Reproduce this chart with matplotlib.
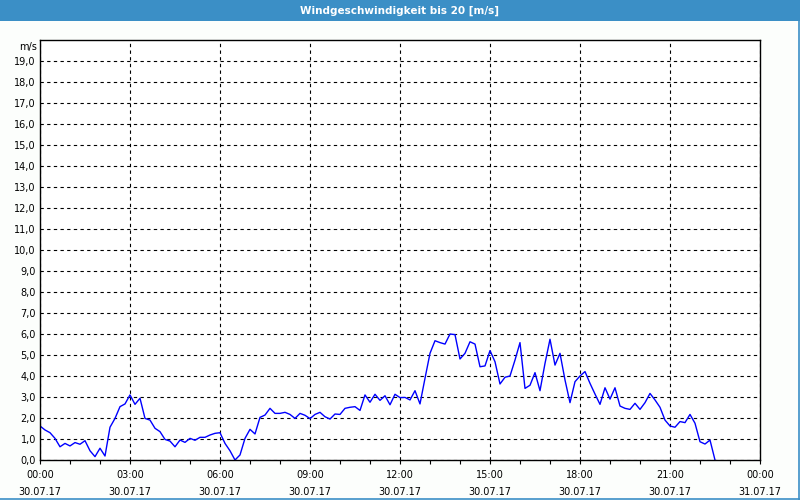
import matplotlib
matplotlib.use("Agg")
import matplotlib.pyplot as plt
import matplotlib.dates as mdates
import matplotlib.transforms as mtransforms
from matplotlib.patches import Rectangle
from matplotlib.lines import Line2D
import numpy as np
import pandas as pd

title = "Windgeschwindigkeit bis 20 [m/s]"
unit_label = "m/s"
start_time = "2017-07-30 00:00"
end_time = "2017-07-31 00:00"
interval = "10min"

wind_speed = [
    1.62, 1.43, 1.30, 1.03, 0.63, 0.79,
    0.67, 0.83, 0.75, 0.92, 0.44, 0.16,
    0.56, 0.19, 1.56, 1.98, 2.54, 2.67,
    3.10, 2.65, 2.94, 1.98, 1.90, 1.51,
    1.35, 0.98, 0.90, 0.63, 0.95, 0.84,
    1.03, 0.94, 1.08, 1.08, 1.19, 1.27,
    1.30, 0.79, 0.44, 0.00, 0.24, 1.03,
    1.46, 1.24, 2.03, 2.14, 2.46, 2.22,
    2.22, 2.27, 2.17, 1.98, 2.22, 2.13,
    1.97, 2.17, 2.27, 2.06, 1.95, 2.19,
    2.17, 2.46, 2.51, 2.54, 2.36, 3.10,
    2.75, 3.13, 2.84, 3.06, 2.63, 3.13,
    2.97, 2.98, 2.86, 3.30, 2.67, 3.89,
    5.08, 5.68, 5.59, 5.52, 6.00, 5.97,
    4.81, 5.08, 5.63, 5.52, 4.44, 4.48,
    5.21, 4.68, 3.62, 3.94, 4.00, 4.76,
    5.59, 3.41, 3.56, 4.16, 3.30, 4.60,
    5.75, 4.52, 5.08, 3.81, 2.73, 3.73,
    4.00, 4.21, 3.65, 3.14, 2.65, 3.44,
    2.90, 3.44, 2.57, 2.46, 2.41, 2.70,
    2.41, 2.73, 3.17, 2.86, 2.51, 1.90,
    1.62, 1.56, 1.83, 1.78, 2.17, 1.75,
    0.87, 0.76, 0.95, 0.00,
]
y_ticks = [float(v) for v in range(0, 20)]
y_tick_labels = [f"{v:.1f}".replace(".", ",") for v in y_ticks]

times = pd.date_range(start_time, periods=len(wind_speed), freq=interval)

bg = "#fcfefc"
bar_blue = "#3b8fc6"

fig = plt.figure(figsize=(8, 5), dpi=100, facecolor=bg)
ax = fig.add_axes([0.05, 0.08, 0.90, 0.84])
ax.set_facecolor("white")

ax.plot(times, wind_speed, color="#0000ff", lw=1.0)

ax.set_xlim(pd.Timestamp(start_time), pd.Timestamp(end_time))
ax.set_ylim(0, 20)

ax.xaxis.set_major_locator(mdates.HourLocator(byhour=range(0, 24, 3)))
ax.xaxis.set_minor_locator(mdates.HourLocator())
ax.xaxis.set_major_formatter(mdates.DateFormatter("%H:%M\n%d.%m.%y"))
ax.set_yticks(y_ticks)
ax.set_yticklabels(y_tick_labels)

ax.tick_params(axis="x", which="both", direction="out", length=3, width=0.8,
               labelsize=7, pad=4, colors="black")
ax.tick_params(axis="y", length=0, labelsize=7, pad=3)
for lbl in ax.get_xticklabels():
    lbl.set_linespacing(1.85)

ax.grid(True, which="major", color="black", linestyle=(0, (3, 3)), linewidth=0.8)
for s in ax.spines.values():
    s.set_color("black")
    s.set_linewidth(1.0)

trans = mtransforms.blended_transform_factory(ax.transAxes, ax.transData)
ax.text(-0.004, 19.9, unit_label, transform=trans, ha="right", va="top", fontsize=7)

# title bar
fig.patches.append(Rectangle((0, 0.958), 1, 0.042, transform=fig.transFigure,
                             facecolor=bar_blue, edgecolor="none", zorder=0))
fig.text(0.5, 0.979, title, ha="center", va="center", color="white",
         fontsize=7.5, fontweight="bold")
# right and bottom border
fig.lines.append(Line2D([0.9988, 0.9988], [0, 1], transform=fig.transFigure,
                        color=bar_blue, lw=1.2))
fig.lines.append(Line2D([0, 1], [0.0012, 0.0012], transform=fig.transFigure,
                        color=bar_blue, lw=1.2))

fig.savefig("out.png", dpi=100, facecolor=bg)
